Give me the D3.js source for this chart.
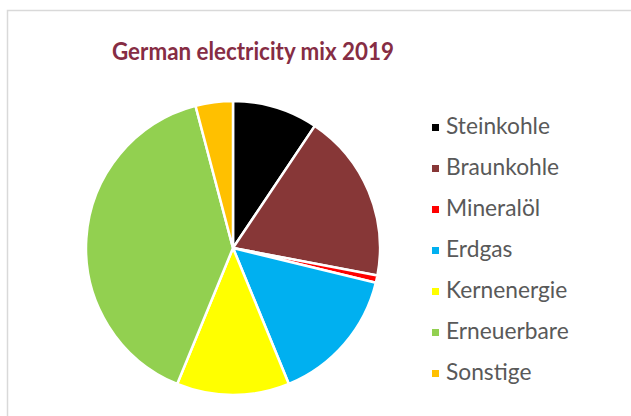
<!DOCTYPE html>
<html>
<head>
<meta charset="utf-8">
<script src="https://cdn.jsdelivr.net/npm/d3@7"></script>
<style>
  html, body { margin: 0; padding: 0; background: #ffffff; }
  svg { display: block; }
</style>
</head>
<body>
<svg id="chart" width="631" height="416"></svg>
<script>
// Gross electricity generation in Germany, 2019 (share in %)
const categories = ["Steinkohle", "Braunkohle", "Mineralöl", "Erdgas", "Kernenergie", "Erneuerbare", "Sonstige"];
const shares = [9.4, 18.6, 0.8, 15.0, 12.4, 39.7, 4.1];
const colors = ["#000000", "#873737", "#ff0000", "#00b0f0", "#ffff00", "#92d050", "#ffc000"];
const titleText = "German electricity mix 2019";

const svg = d3.select("#chart");
const FONT = "Lato, 'Open Sans', 'DejaVu Sans', sans-serif";

// chart frame (continues past the right and bottom edges)
svg.append("rect")
  .attr("x", 7.5).attr("y", 10.5)
  .attr("width", 700).attr("height", 500)
  .attr("fill", "#ffffff")
  .attr("stroke", "#d9d9d9")
  .attr("stroke-width", 1.5);

// title: tall bold face, fitted to a fixed width
svg.append("text")
  .attr("x", 253).attr("y", 59.5)
  .attr("text-anchor", "middle")
  .attr("font-family", FONT)
  .attr("font-weight", "bold")
  .attr("font-size", 25)
  .attr("textLength", 282)
  .attr("lengthAdjust", "spacingAndGlyphs")
  .attr("fill", "#862d44")
  .text(titleText);

// pie
const cx = 233, cy = 248, radius = 147;
const data = categories.map((c, i) => ({ name: c, value: shares[i], color: colors[i] }));
const pie = d3.pie().value(d => d.value).sort(null);
const arc = d3.arc().innerRadius(0).outerRadius(radius);

svg.append("g")
  .attr("transform", `translate(${cx},${cy})`)
  .selectAll("path")
  .data(pie(data))
  .join("path")
  .attr("d", arc)
  .attr("fill", d => d.data.color)
  .attr("stroke", "#ffffff")
  .attr("stroke-width", 2.5)
  .attr("stroke-linejoin", "round");

// legend
const legendY = d3.scaleBand().domain(categories).range([107, 394]);
const legend = svg.append("g").selectAll("g")
  .data(data)
  .join("g")
  .attr("transform", d => `translate(0,${legendY(d.name) + legendY.bandwidth() / 2})`);

legend.append("rect")
  .attr("x", 432).attr("y", -3.5)
  .attr("width", 7).attr("height", 7)
  .attr("fill", d => d.color);

const labels = legend.append("text")
  .attr("x", 446).attr("y", 6.5)
  .attr("font-family", FONT)
  .attr("font-size", 18)
  .attr("fill", "#595959")
  .text(d => d.name);
{
  const w = labels.filter(d => d.name === "Steinkohle").node().getComputedTextLength();
  labels.attr("font-size", 18 * 104 / w);
}
</script>
</body>
</html>
